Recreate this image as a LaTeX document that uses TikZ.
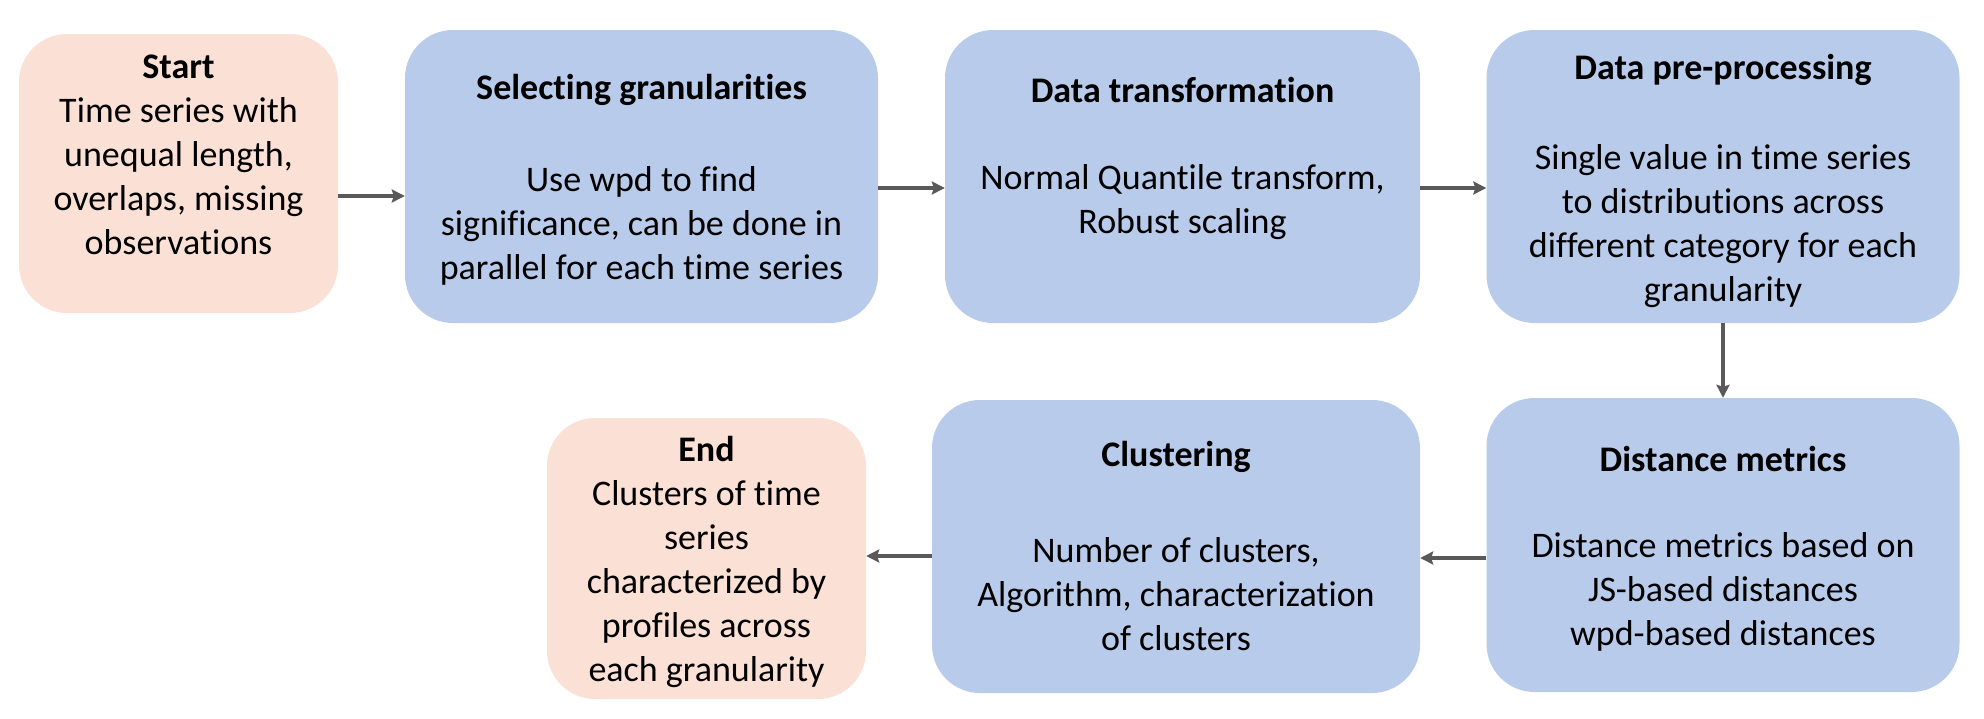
\documentclass[tikz,border=0pt]{standalone}
\usepackage{fontspec}
\setmainfont{Carlito}[Ligatures=NoCommon]
\usetikzlibrary{arrows.meta,calc}
\definecolor{boxblue}{HTML}{B9CBEA}
\definecolor{boxpeach}{HTML}{FBE1D5}
\definecolor{arrgray}{HTML}{595959}
\begin{document}
\begin{tikzpicture}[x=1pt,y=-1pt,
  box/.style={rounded corners=48pt, inner sep=0pt, draw=none},
  bluebox/.style={box, fill=boxblue},
  peachbox/.style={box, fill=boxpeach},
  txt/.style={font=\fontsize{36}{44}\selectfont, align=center, inner sep=0pt},
  ttl/.style={font=\fontsize{36}{44}\selectfont\bfseries, align=center, inner sep=0pt},
  flow/.style={draw=arrgray, line width=4pt, -{Stealth[length=13pt,width=13pt,inset=2pt]}}]
\useasboundingbox (0,0) rectangle (1984,718);
% boxes
\node[peachbox, minimum width=319pt, minimum height=279pt] (start) at (178.5,173.5) {};
\node[bluebox, minimum width=473pt, minimum height=293pt] (sel) at (641.5,176.5) {};
\node[bluebox, minimum width=475pt, minimum height=293pt] (trans) at (1182.5,176.5) {};
\node[bluebox, minimum width=473pt, minimum height=293pt] (pre) at (1723,176.5) {};
\node[bluebox, minimum width=473pt, minimum height=294pt] (dist) at (1723,545) {};
\node[bluebox, minimum width=488pt, minimum height=293pt] (clus) at (1176,546.5) {};
\node[peachbox, minimum width=319pt, minimum height=281pt] (end) at (706.5,558.5) {};
% texts
\node[txt] (starttxt) at (178.5,155) {\textbf{Start}\\Time series with\\unequal length,\\overlaps, missing\\observations};
\node[ttl] (selttl) at (641.5,90) {Selecting granularities};
\node[txt] (seltxt) at (641.5,226) {Use wpd to find\\significance, can be done in\\parallel for each time series};
\node[ttl] (transttl) at (1182.5,90) {Data transformation};
\node[txt] (transtxt) at (1182.5,202) {Normal Quantile transform,\\Robust scaling};
\node[ttl] (prettl) at (1723,70) {Data pre-processing};
\node[txt] (pretxt) at (1723,226) {Single value in time series\\to distributions across\\different category for each\\granularity};
\node[ttl] (distttl) at (1723,459) {Distance metrics};
\node[txt] (disttxt) at (1723,592) {Distance metrics based on\\JS-based distances\\wpd-based distances};
\node[ttl] (clusttl) at (1176,457) {Clustering};
\node[txt] (clustxt) at (1176,594) {Number of clusters,\\Algorithm, characterization\\of clusters};
\node[txt] (endtxt) at (706.5,562) {\textbf{End}\\Clusters of time\\series\\characterized by\\profiles across\\each granularity};
% connectors
\draw[flow] (start.east |- {(0,196)}) -- (sel.west |- {(0,196)});
\draw[flow] (sel.east |- {(0,188)}) -- (trans.west |- {(0,188)});
\draw[flow] (trans.east |- {(0,188)}) -- (pre.west |- {(0,188)});
\draw[flow] (pre.south) -- (dist.north);
\draw[flow] (dist.west |- {(0,558)}) -- (clus.east |- {(0,558)});
\draw[flow] (clus.west |- {(0,556)}) -- (end.east |- {(0,556)});
\end{tikzpicture}
\end{document}
